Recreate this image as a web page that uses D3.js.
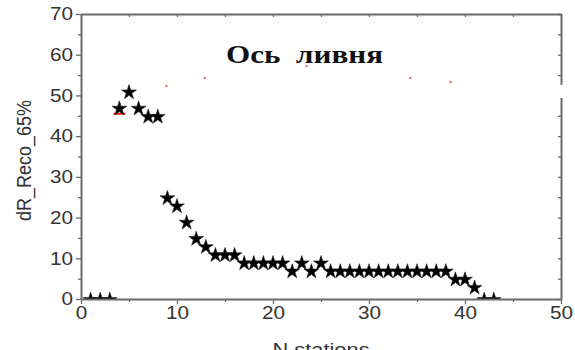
<!DOCTYPE html>
<html>
<head>
<meta charset="utf-8">
<script src="https://cdn.jsdelivr.net/npm/d3@7"></script>
<style>
  body { margin: 0; background: #fff; }
  svg { display: block; }
</style>
</head>
<body>
<div id="chart"></div>
<script>
// stations along the shower axis
const stations = [1, 2, 3, 4, 5, 6, 7, 8, 9, 10, 11, 12, 13, 14, 15, 16, 17, 18, 19, 20, 21,
    22, 23, 24, 25, 26, 27, 28, 29, 30, 31, 32, 33, 34, 35, 36, 37, 38, 39, 40, 41, 42, 43];
const dR = [0, 0, 0, 47, 51, 47, 45, 45, 25, 23, 19, 15, 13, 11, 11, 11, 9, 9, 9, 9, 9,
    7, 9, 7, 9, 7, 7, 7, 7, 7, 7, 7, 7, 7, 7, 7, 7, 7, 5, 5, 3, 0, 0];

// faint red marks left over in the picture
const redX = [8.9, 12.9, 23.5, 34.3, 38.5];
const redY = [52.3, 54.3, 57.2, 54.3, 53.3];
const redDashX = [4];
const redDashY = [45.5];

const xTicks = [0, 10, 20, 30, 40, 50];
const yTicks = [0, 10, 20, 30, 40, 50, 60, 70];
const minorX = [5, 15, 25, 35, 45];
const minorY = [5, 15, 25, 35, 45, 55, 65];

const width = 575, height = 350;
const margin = { top: 14, right: 14, bottom: 51, left: 81 };
const axisColor = "#6a6a6a";
const sans = "Liberation Sans, Arial, sans-serif";

const svg = d3.select("#chart").append("svg")
    .attr("width", width)
    .attr("height", height);

const x = d3.scaleLinear().domain([0, 50]).range([margin.left, width - margin.right]);
const y = d3.scaleLinear().domain([0, 70]).range([height - margin.bottom, margin.top]);

svg.append("defs").append("clipPath").attr("id", "plot")
    .append("rect")
    .attr("x", margin.left).attr("y", margin.top)
    .attr("width", width - margin.left - margin.right)
    .attr("height", height - margin.top - margin.bottom);

// red bits
svg.append("g").selectAll("circle")
    .data(redX)
    .join("circle")
    .attr("cx", d => x(d))
    .attr("cy", (d, i) => y(redY[i]))
    .attr("r", 1.2)
    .attr("fill", "#f04040")
    .attr("opacity", 0.8);

svg.append("g").selectAll("line")
    .data(redDashX)
    .join("line")
    .attr("x1", d => x(d) - 6)
    .attr("x2", d => x(d) + 6)
    .attr("y1", (d, i) => y(redDashY[i]))
    .attr("y2", (d, i) => y(redDashY[i]))
    .attr("stroke", "#e82020")
    .attr("stroke-width", 2);

// stars
const star = d3.symbol().type(d3.symbolStar).size(68);
svg.append("g")
    .attr("clip-path", "url(#plot)")
    .selectAll("path")
    .data(stations)
    .join("path")
    .attr("d", star)
    .attr("transform", (d, i) => `translate(${x(d)},${y(dR[i]) + 1})`)
    .attr("fill", "#000")
    .attr("stroke", "#222")
    .attr("stroke-width", 0.6);

// axes
function styleAxis(g) {
    g.select(".domain").attr("stroke", axisColor).attr("stroke-width", 2);
    g.selectAll(".tick line").attr("stroke", axisColor).attr("stroke-width", 1.3);
    g.selectAll(".tick text")
        .attr("fill", "#333")
        .style("font-family", sans)
        .style("font-size", "18px");
}

// the picture is a bit stretched sideways, so widen the labels
function widen(g) {
    g.selectAll(".tick text").each(function () {
        const t = d3.select(this);
        const tx = +t.attr("x") || 0;
        t.attr("transform", `translate(${tx},0) scale(1.15,1)`).attr("x", 0);
    });
}

svg.append("g")
    .attr("transform", `translate(0,${y(0)})`)
    .call(d3.axisBottom(x).tickValues(xTicks).tickSize(5).tickSizeOuter(0).tickPadding(2))
    .call(styleAxis)
    .call(widen);
svg.append("g")
    .attr("transform", `translate(0,${y(0)})`)
    .call(d3.axisBottom(x).tickValues(minorX).tickSize(3).tickFormat(""))
    .call(g => g.select(".domain").remove())
    .call(styleAxis);

svg.append("g")
    .attr("transform", `translate(${x(0)},0)`)
    .call(d3.axisLeft(y).tickValues(yTicks).tickSize(5).tickSizeOuter(0).tickPadding(3))
    .call(styleAxis)
    .call(widen);
svg.append("g")
    .attr("transform", `translate(${x(0)},0)`)
    .call(d3.axisLeft(y).tickValues(minorY).tickSize(3).tickFormat(""))
    .call(g => g.select(".domain").remove())
    .call(styleAxis);

svg.append("g")
    .attr("transform", `translate(0,${y(70)})`)
    .call(d3.axisBottom(x).tickValues(xTicks.concat(minorX)).tickSize(3).tickSizeOuter(0).tickFormat(""))
    .call(styleAxis);

svg.append("g")
    .attr("transform", `translate(${x(50)},0)`)
    .call(d3.axisLeft(y).tickValues(yTicks.concat(minorY)).tickSize(3).tickSizeOuter(0).tickFormat(""))
    .call(styleAxis);

// gap in the right frame, as in the picture
svg.append("rect")
    .attr("x", x(50) - 8).attr("y", 85)
    .attr("width", 20).attr("height", 13)
    .attr("fill", "#fff");

// labels
svg.append("text")
    .attr("x", 226)
    .attr("y", 63)
    .attr("textLength", 157)
    .attr("lengthAdjust", "spacingAndGlyphs")
    .style("font-family", "Liberation Serif, Times New Roman, serif")
    .style("font-weight", "bold")
    .style("font-size", "26px")
    .style("white-space", "pre")
    .attr("fill", "#111")
    .text("Ось  ливня");

svg.append("text")
    .attr("transform", `translate(31,${(y(0) + y(70)) / 2 + 4}) rotate(-90) scale(1,1.15)`)
    .attr("text-anchor", "middle")
    .style("font-family", sans)
    .style("font-size", "18px")
    .attr("fill", "#333")
    .text("dR_Reco_65%");

svg.append("text")
    .attr("transform", `translate(${(x(0) + x(50)) / 2},356) scale(1.15,1)`)
    .attr("text-anchor", "middle")
    .style("font-family", sans)
    .style("font-size", "19px")
    .attr("fill", "#333")
    .text("N stations");
</script>
</body>
</html>
